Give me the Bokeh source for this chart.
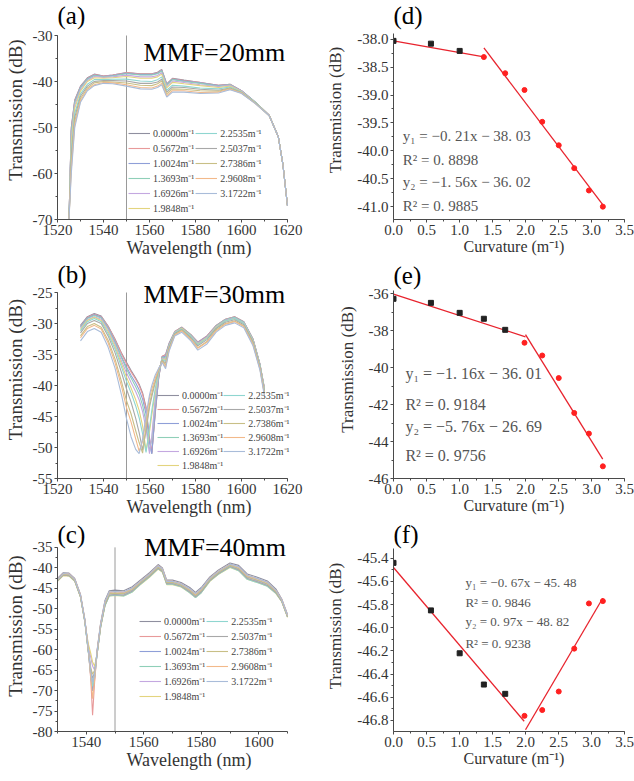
from bokeh.plotting import figure
from bokeh.layouts import column, row
from bokeh.models import (Range1d, SingleIntervalTicker, NumeralTickFormatter, Label,
                          Legend, LegendItem)
from bokeh.embed import file_html
from bokeh.resources import INLINE

FONT = "Liberation Serif"

# ---------------- data ----------------
curvature = [0.0, 0.5672, 1.0024, 1.3693, 1.6926, 1.9848, 2.2535, 2.5037, 2.7386, 2.9608, 3.1722]
curv_labels = ["0.0000m⁻¹", "0.5672m⁻¹", "1.0024m⁻¹", "1.3693m⁻¹", "1.6926m⁻¹", "1.9848m⁻¹",
               "2.2535m⁻¹", "2.5037m⁻¹", "2.7386m⁻¹", "2.9608m⁻¹", "3.1722m⁻¹"]
curve_colors = ["#8f8f9f", "#e89a9a", "#8f9fd8", "#8fcfb8", "#c4a8e0", "#e3d47e",
                "#8fd6d0", "#a8a8a8", "#c8bf86", "#f2b98a", "#a9bcd9"]

# (a) MMF = 20 mm
wl_a = [1525, 1526, 1527.5, 1530, 1533, 1536, 1540, 1544, 1550, 1556, 1561, 1563.5, 1565.3,
        1567.5, 1570, 1575, 1582, 1590, 1595, 1600, 1606, 1612, 1616, 1618, 1620]
spec_a = [
    [-70, -50, -44, -41, -39.2, -38.4, -38.8, -38.6, -38.03, -38.3, -38.3, -38.0, -37.4, -40.5, -39.3, -39.7, -40.2, -40.8, -40.6, -42.0, -44.5, -47.3, -52, -58, -67],
    [-70, -50.2, -44.1, -41.1, -39.3, -38.5, -38.8, -38.6, -38.08, -38.4, -38.4, -38.1, -37.5, -40.6, -39.4, -39.8, -40.2, -40.8, -40.6, -42.0, -44.5, -47.3, -52, -58, -67],
    [-70, -50.6, -44.4, -41.2, -39.4, -38.6, -38.9, -38.7, -38.21, -38.5, -38.5, -38.2, -37.6, -40.7, -39.5, -39.9, -40.3, -40.9, -40.7, -42.0, -44.5, -47.3, -52, -58, -67],
    [-70, -51, -44.6, -41.4, -39.5, -38.7, -39.0, -38.8, -38.32, -38.6, -38.6, -38.3, -37.7, -40.8, -39.6, -40.0, -40.4, -41.0, -40.7, -42.1, -44.5, -47.3, -52, -58, -67],
    [-70, -52, -45.2, -41.7, -39.8, -38.9, -39.1, -39.0, -38.61, -39.0, -39.0, -38.7, -38.1, -41.1, -39.9, -40.2, -40.7, -41.1, -40.8, -42.1, -44.6, -47.3, -52, -58, -67],
    [-70, -53, -45.8, -42.1, -40.0, -39.2, -39.3, -39.2, -38.91, -39.3, -39.3, -39.0, -38.4, -41.4, -40.2, -40.5, -40.9, -41.3, -41.0, -42.2, -44.6, -47.3, -52, -58, -67],
    [-70, -54.9, -46.9, -42.7, -40.6, -39.6, -39.6, -39.5, -39.48, -39.9, -40.0, -39.6, -39.0, -41.9, -40.8, -41.0, -41.4, -41.6, -41.2, -42.3, -44.6, -47.4, -52, -58, -67],
    [-70, -56.3, -47.8, -43.2, -41.0, -40.0, -39.8, -39.8, -39.90, -40.4, -40.4, -40.1, -39.5, -42.3, -41.2, -41.3, -41.7, -41.9, -41.4, -42.4, -44.7, -47.4, -52, -58, -67],
    [-70, -57.7, -48.6, -43.7, -41.4, -40.3, -40.0, -40.1, -40.31, -40.8, -40.9, -40.5, -39.9, -42.7, -41.6, -41.7, -42.0, -42.1, -41.5, -42.5, -44.7, -47.4, -52, -58, -67],
    [-70, -59, -49.4, -44.2, -41.7, -40.7, -40.2, -40.3, -40.71, -41.3, -41.4, -41.0, -40.4, -43.1, -42.0, -42.0, -42.4, -42.3, -41.7, -42.5, -44.8, -47.4, -52, -58, -67],
    [-70, -60, -50, -44.5, -42.0, -40.9, -40.4, -40.5, -41.00, -41.6, -41.7, -41.3, -40.7, -43.4, -42.3, -42.3, -42.6, -42.5, -41.8, -42.6, -44.8, -47.4, -52, -58, -67],
]

# (b) MMF = 30 mm
wl_b = [1530, 1533, 1536, 1539, 1542, 1545, 1548, 1550, 1552, 1554, 1555.5, 1557, 1558.5, 1560,
        1561, 1562.5, 1564, 1565.5, 1567, 1568.5, 1571, 1574, 1578, 1581, 1585, 1589, 1593, 1597,
        1601, 1605, 1608, 1610]
spec_b = [
    [-30.3, -28.9, -28.4, -28.8, -30.4, -32.5, -34.9, -36.27, -37.6, -38.8, -39.8, -41.2, -43.5, -48.5, -51.0, -44.5, -38.8, -35.3, -35.0, -33.2, -31.3, -30.6, -31.8, -33.0, -32.0, -30.3, -29.3, -28.9, -29.7, -32.5, -36.5, -40.5],
    [-30.4, -29.0, -28.5, -28.9, -30.5, -32.6, -35.0, -36.49, -37.8, -39.0, -40.0, -41.4, -43.8, -48.7, -50.8, -44.3, -38.7, -35.3, -35.1, -33.3, -31.3, -30.6, -31.8, -33.0, -32.0, -30.3, -29.3, -28.9, -29.7, -32.5, -36.5, -40.5],
    [-30.5, -29.1, -28.6, -29.0, -30.7, -32.9, -35.5, -37.03, -38.4, -39.6, -40.7, -42.2, -44.6, -49.2, -51.0, -44.0, -38.6, -35.4, -35.3, -33.4, -31.4, -30.7, -31.9, -33.1, -32.1, -30.4, -29.4, -29.0, -29.8, -32.6, -36.6, -40.6],
    [-30.6, -29.2, -28.7, -29.1, -30.8, -33.1, -35.7, -37.35, -38.8, -40.2, -41.4, -43.2, -46.0, -50.6, -48.8, -42.6, -38.3, -35.5, -35.5, -33.5, -31.4, -30.7, -31.9, -33.2, -32.2, -30.4, -29.4, -29.0, -29.8, -32.6, -36.6, -40.7],
    [-30.8, -29.4, -28.9, -29.3, -31.0, -33.4, -36.2, -37.95, -39.5, -41.0, -42.3, -44.2, -47.0, -51.0, -48.2, -42.0, -38.0, -35.6, -35.7, -33.6, -31.4, -30.8, -32.0, -33.2, -32.2, -30.5, -29.5, -29.1, -29.9, -32.7, -36.7, -40.7],
    [-31.0, -29.5, -29.0, -29.5, -31.3, -33.7, -36.7, -38.65, -40.4, -42.3, -44.0, -46.5, -50.5, -47.5, -44.8, -41.0, -37.8, -35.7, -35.9, -33.7, -31.5, -30.8, -32.1, -33.3, -32.3, -30.6, -29.6, -29.2, -30.0, -32.8, -36.8, -40.8],
    [-31.2, -29.7, -29.2, -29.7, -31.6, -34.1, -37.2, -39.34, -41.2, -43.3, -45.2, -47.8, -50.8, -46.8, -44.0, -40.5, -37.7, -35.8, -36.1, -33.8, -31.5, -30.9, -32.1, -33.4, -32.4, -30.7, -29.6, -29.2, -30.0, -32.9, -36.8, -40.9],
    [-31.5, -30.0, -29.5, -30.0, -32.0, -34.7, -38.1, -40.56, -42.7, -45.3, -47.6, -50.4, -47.3, -43.5, -41.8, -39.5, -37.5, -35.9, -36.4, -33.9, -31.6, -31.0, -32.3, -33.6, -32.6, -30.8, -29.8, -29.4, -30.2, -33.0, -37.0, -41.1],
    [-32.0, -30.5, -30.0, -30.6, -32.7, -35.7, -39.6, -42.45, -44.6, -47.3, -49.2, -50.9, -46.8, -43.0, -41.3, -39.2, -37.4, -36.0, -36.7, -34.1, -31.8, -31.1, -32.5, -33.9, -32.9, -31.0, -30.0, -29.6, -30.4, -33.2, -37.2, -41.4],
    [-32.3, -30.8, -30.3, -30.9, -33.1, -36.3, -40.4, -43.57, -45.9, -48.6, -50.6, -49.0, -45.5, -42.0, -40.6, -38.8, -37.3, -36.2, -37.0, -34.3, -31.9, -31.2, -32.6, -34.0, -33.0, -31.2, -30.1, -29.7, -30.5, -33.4, -37.3, -41.5],
    [-32.8, -31.3, -30.8, -31.4, -33.8, -37.2, -41.8, -45.34, -48.3, -50.3, -51.0, -48.6, -44.8, -41.5, -40.0, -38.3, -37.2, -36.3, -37.3, -34.5, -32.0, -31.4, -32.8, -34.3, -33.3, -31.4, -30.3, -29.9, -30.7, -33.6, -37.5, -41.8],
]

# (c) MMF = 40 mm
wl_c = [1530, 1532, 1534, 1536, 1538, 1539.5, 1540.7, 1541.6, 1542.2, 1542.9, 1543.8, 1545, 1546.5,
        1548, 1550, 1553, 1556, 1559, 1562, 1565, 1566.5, 1568, 1570, 1573, 1576, 1578, 1580, 1583,
        1586, 1590, 1593, 1596, 1600, 1603, 1606, 1608, 1610]
spec_c = [
    [-42.6, -41.2, -41.3, -42.6, -46.5, -52.5, -59.5, -66.0, -70.0, -66.5, -60.0, -53.5, -48.0, -45.6, -45.44, -45.6, -44.6, -42.9, -41.2, -39.2, -40.0, -43.0, -43.0, -43.6, -44.8, -46.0, -44.8, -42.2, -40.5, -38.8, -39.4, -41.5, -42.4, -43.2, -45.2, -47.6, -51.4],
    [-42.8, -41.4, -41.5, -42.8, -46.7, -52.7, -59.8, -67.5, -76.0, -68.0, -60.3, -53.8, -48.4, -46.0, -45.85, -46.0, -45.0, -43.2, -41.5, -39.5, -40.3, -43.3, -43.3, -43.9, -45.2, -46.4, -45.2, -42.5, -40.8, -39.1, -39.8, -41.9, -42.8, -43.6, -45.5, -47.8, -51.6],
    [-43.0, -41.6, -41.7, -43.0, -46.9, -52.9, -60.1, -66.6, -70.0, -67.0, -60.6, -54.1, -48.8, -46.4, -46.22, -46.4, -45.4, -43.5, -41.8, -39.8, -40.6, -43.6, -43.6, -44.2, -45.6, -46.8, -45.6, -42.8, -41.1, -39.4, -40.2, -42.3, -43.2, -44.0, -45.8, -48.0, -51.8],
    [-43.1, -41.7, -41.8, -43.1, -47.0, -53.0, -60.3, -65.5, -68.0, -66.0, -60.8, -54.3, -49.1, -46.7, -46.49, -46.7, -45.7, -43.7, -42.0, -40.0, -40.8, -43.8, -43.8, -44.4, -45.9, -47.1, -45.9, -43.0, -41.3, -39.6, -40.5, -42.6, -43.5, -44.3, -46.0, -48.1, -51.9],
    [-43.2, -41.8, -41.9, -43.2, -47.1, -53.1, -59.0, -62.0, -64.0, -65.0, -61.0, -54.4, -49.1, -46.7, -46.57, -46.7, -45.7, -43.8, -42.1, -40.1, -40.9, -43.9, -43.9, -44.5, -45.9, -47.1, -45.9, -43.1, -41.4, -39.7, -40.5, -42.6, -43.5, -44.3, -46.1, -48.2, -52.0],
    [-43.3, -41.9, -42.0, -43.3, -47.2, -53.2, -58.5, -61.0, -63.0, -64.0, -61.0, -54.6, -49.3, -46.9, -46.76, -46.9, -45.9, -44.0, -42.3, -40.3, -41.1, -44.1, -44.1, -44.7, -46.1, -47.3, -46.1, -43.3, -41.6, -39.9, -40.7, -42.8, -43.7, -44.5, -46.3, -48.3, -52.1],
    [-43.2, -41.8, -41.9, -43.2, -47.1, -53.1, -60.5, -66.5, -69.0, -66.8, -61.0, -54.5, -49.3, -46.9, -46.71, -46.9, -45.9, -43.9, -42.2, -40.2, -41.0, -44.0, -44.0, -44.6, -46.1, -47.3, -46.1, -43.2, -41.5, -39.8, -40.7, -42.8, -43.7, -44.5, -46.2, -48.2, -52.0],
    [-43.2, -41.8, -41.9, -43.2, -47.1, -53.1, -60.4, -65.0, -67.0, -65.5, -60.9, -54.4, -49.1, -46.7, -46.55, -46.7, -45.7, -43.8, -42.1, -40.1, -40.9, -43.9, -43.9, -44.5, -45.9, -47.1, -45.9, -43.1, -41.4, -39.7, -40.5, -42.6, -43.5, -44.3, -46.1, -48.2, -52.0],
    [-43.0, -41.6, -41.7, -43.0, -46.9, -52.9, -60.1, -64.5, -66.0, -65.0, -60.6, -54.1, -48.7, -46.3, -46.18, -46.3, -45.3, -43.5, -41.8, -39.8, -40.6, -43.6, -43.6, -44.2, -45.5, -46.7, -45.5, -42.8, -41.1, -39.4, -40.1, -42.2, -43.1, -43.9, -45.8, -48.0, -51.8],
    [-42.8, -41.4, -41.5, -42.8, -46.7, -52.7, -59.8, -67.0, -72.0, -67.5, -60.3, -53.8, -48.4, -46.0, -45.79, -46.0, -45.0, -43.2, -41.5, -39.5, -40.3, -43.3, -43.3, -43.9, -45.2, -46.4, -45.2, -42.5, -40.8, -39.1, -39.8, -41.9, -42.8, -43.6, -45.5, -47.8, -51.6],
    [-42.8, -41.4, -41.5, -42.8, -46.7, -52.7, -59.8, -65.5, -68.0, -66.0, -60.3, -53.8, -48.3, -45.9, -45.77, -45.9, -44.9, -43.2, -41.5, -39.5, -40.3, -43.3, -43.3, -43.9, -45.1, -46.3, -45.1, -42.5, -40.8, -39.1, -39.7, -41.8, -42.7, -43.5, -45.5, -47.8, -51.6],
]

# (d)(e)(f) transmission at 1550 nm vs curvature
trans_d = [-38.03, -38.08, -38.21, -38.32, -38.61, -38.91, -39.48, -39.90, -40.31, -40.71, -41.00]
trans_e = [-36.27, -36.49, -37.03, -37.35, -37.95, -38.65, -39.34, -40.56, -42.45, -43.57, -45.34]
trans_f = [-45.44, -45.85, -46.22, -46.49, -46.57, -46.76, -46.71, -46.55, -46.18, -45.79, -45.77]
n_black_d, n_black_e, n_black_f = 3, 5, 5

# fits: (slope, intercept, x_start, x_end)
fit_d = [(-0.21, -38.03, 0.0, 1.37), (-1.56, -36.02, 1.37, 3.17)]
fit_e = [(-1.16, -36.01, 0.0, 2.0), (-5.76, -26.69, 2.0, 3.17)]
fit_f = [(-0.67, -45.48, 0.0, 1.98), (0.97, -48.82, 2.0, 3.17)]

eq_d = ["y₁ = −0. 21x − 38. 03", "R² = 0. 8898", "y₂ = −1. 56x − 36. 02", "R² = 0. 9885"]
eq_e = ["y₁ = −1. 16x − 36. 01", "R² = 0. 9184", "y₂ = −5. 76x − 26. 69", "R² = 0. 9756"]
eq_f = ["y₁ = −0. 67x − 45. 48", "R² = 0. 9846", "y₂ = 0. 97x − 48. 82", "R² = 0. 9238"]

RED = "#e8232d"
AX = "#4a4a4a"


def make_fig(w, h, xb, yb, L, R, T, B, xint, yint, xfmt, yfmt, xlabel, tick_fs, lab_fs, lab_stand):
    # the axes are drawn over xb/yb only; the frame is widened to the figure's top/right edge
    fw = w - L - R
    fh = h - T - B
    x_ext = xb[1] + R * (xb[1] - xb[0]) / fw
    y_ext = yb[1] + T * (yb[1] - yb[0]) / fh
    p = figure(width=w, height=h, x_range=Range1d(xb[0], x_ext), y_range=Range1d(yb[0], y_ext),
               output_backend="svg", toolbar_location=None,
               min_border_left=L, min_border_right=0, min_border_top=0, min_border_bottom=B)
    p.xgrid.visible = False
    p.ygrid.visible = False
    p.outline_line_color = None
    p.xaxis.bounds = xb
    p.yaxis.bounds = yb
    p.xaxis.ticker = SingleIntervalTicker(interval=xint, num_minor_ticks=2)
    p.yaxis.ticker = SingleIntervalTicker(interval=yint, num_minor_ticks=2)
    p.xaxis.formatter = NumeralTickFormatter(format=xfmt)
    p.yaxis.formatter = NumeralTickFormatter(format=yfmt)
    p.xaxis.axis_label = xlabel
    p.yaxis.axis_label = "Transmission (dB)"
    for ax in (p.xaxis[0], p.yaxis[0]):
        ax.axis_line_color = AX
        ax.major_tick_line_color = AX
        ax.minor_tick_line_color = AX
        ax.major_tick_out = 3
        ax.major_tick_in = 0
        ax.minor_tick_out = 2
        ax.minor_tick_in = 0
        ax.major_label_standoff = 2
        ax.major_label_text_font = FONT
        ax.major_label_text_font_size = tick_fs
        ax.major_label_text_color = "#333333"
        ax.axis_label_text_font = FONT
        ax.axis_label_text_font_style = "normal"
        ax.axis_label_text_color = "#333333"
    p.xaxis.axis_label_text_font_size = lab_fs[0]
    p.yaxis.axis_label_text_font_size = lab_fs[1]
    p.xaxis.axis_label_standoff = 0
    p.yaxis.axis_label_standoff = lab_stand
    return p


def add_label(p, x, y, text, size, align="left", color="black"):
    p.add_layout(Label(x=x, y=y, text=text, text_font=FONT, text_font_size=size,
                       text_align=align, text_baseline="middle", text_color=color))


def spectrum_panel(p, wl, spec, yb, letter, letter_xy, mmf, mmf_xy, leg_loc, leg_spacing):
    p.line([1550, 1550], list(yb), line_color="#9a9a9a", line_width=1)
    items = []
    for k in range(len(spec)):
        r = p.line(wl, spec[k], line_color=curve_colors[k], line_width=1.1)
        items.append(LegendItem(label=curv_labels[k], renderers=[r]))
    leg = Legend(items=items, location=leg_loc, nrows=6, ncols=2,
                 background_fill_alpha=0, border_line_color=None, padding=0, margin=0,
                 spacing=leg_spacing, label_standoff=3, glyph_width=22, glyph_height=10,
                 label_height=10, label_text_font=FONT, label_text_font_size="10px",
                 label_text_color="#444444")
    p.add_layout(leg)
    add_label(p, letter_xy[0], letter_xy[1], letter, "25px")
    add_label(p, mmf_xy[0], mmf_xy[1], mmf, "26px", align="right")


def fit_panel(p, trans, nb, fits, eqs, letter_xy, eq_x, eq_ys, eq_fs, letter):
    for (m, b, x0, x1) in fits:
        p.line([x0, x1], [m * x0 + b, m * x1 + b], line_color=RED, line_width=1.3)
    p.scatter(curvature[:nb], trans[:nb], marker="square", size=5, color="#222222")
    p.scatter(curvature[nb:], trans[nb:], marker="circle", size=5, color="#ff2020")
    for t, y in zip(eqs, eq_ys):
        add_label(p, eq_x, y, t, eq_fs, color="#555555")
    add_label(p, letter_xy[0], letter_xy[1], letter, "25px")


LEFT_LAB = ("18px", "19px")
RIGHT_LAB = ("16px", "17px")

# (a)
yb_a = (-70, -30)
pa = make_fig(320, 260, (1520, 1620), yb_a, 57, 33, 35, 41, 20, 10, "0", "0",
              "Wavelength (nm)", "15px", LEFT_LAB, 4)
spectrum_panel(pa, wl_a, spec_a, yb_a, "(a)", (1520, -25.65), "MMF=20mm", (1619, -33.6), (71, 4), 1)

# (b)
yb_b = (-55, -25)
pb = make_fig(320, 260, (1520, 1620), yb_b, 57, 33, 32, 42, 20, 5, "0", "0",
              "Wavelength (nm)", "15px", LEFT_LAB, 4)
spectrum_panel(pb, wl_b, spec_b, yb_b, "(b)", (1520, -22.1), "MMF=30mm", (1619, -25.4), (100, 6), 0)

# (c)
yb_c = (-80, -35)
pc = make_fig(320, 261, (1530, 1610), yb_c, 57, 33, 27, 49, 20, 5, "0", "0",
              "Wavelength (nm)", "15px", LEFT_LAB, 4)
spectrum_panel(pc, wl_c, spec_c, yb_c, "(c)", (1530, -31.8), "MMF=40mm", (1609.5, -35.0), (82, 28), 1)

# (d)
pd_ = make_fig(314, 260, (0, 3.5), (-41.23, -37.89), 73, 10, 33, 38, 0.5, 0.5, "0.0", "0.0",
               "Curvature (m⁻¹)", "15px", RIGHT_LAB, 9)
fit_panel(pd_, trans_d, n_black_d, fit_d, eq_d, (0.0, -37.57), 0.14,
          [-39.73, -40.17, -40.56, -40.98], "15px", "(d)")

# (e)
pe = make_fig(314, 260, (0, 3.5), (-46.0, -35.82), 73, 10, 30, 42, 0.5, 2, "0.0", "0",
              "Curvature (m⁻¹)", "15px", RIGHT_LAB, 9)
fit_panel(pe, trans_e, n_black_e, fit_e, eq_e, (0.0, -35.01), 0.18,
          [-40.31, -41.98, -43.17, -44.74], "16px", "(e)")

# (f)
pf = make_fig(314, 261, (0, 3.5), (-46.895, -45.316), 73, 10, 28, 50, 0.5, 0.2, "0.0", "0.0",
              "Curvature (m⁻¹)", "15px", RIGHT_LAB, 9)
fit_panel(pf, trans_f, n_black_f, fit_f, eq_f, (0.0, -45.195), 1.09,
          [-45.61, -45.78, -45.95, -46.14], "13px", "(f)")

layout = column(row(pa, pd_), row(pb, pe), row(pc, pf))
open("out.html", "w").write(file_html(layout, INLINE))
